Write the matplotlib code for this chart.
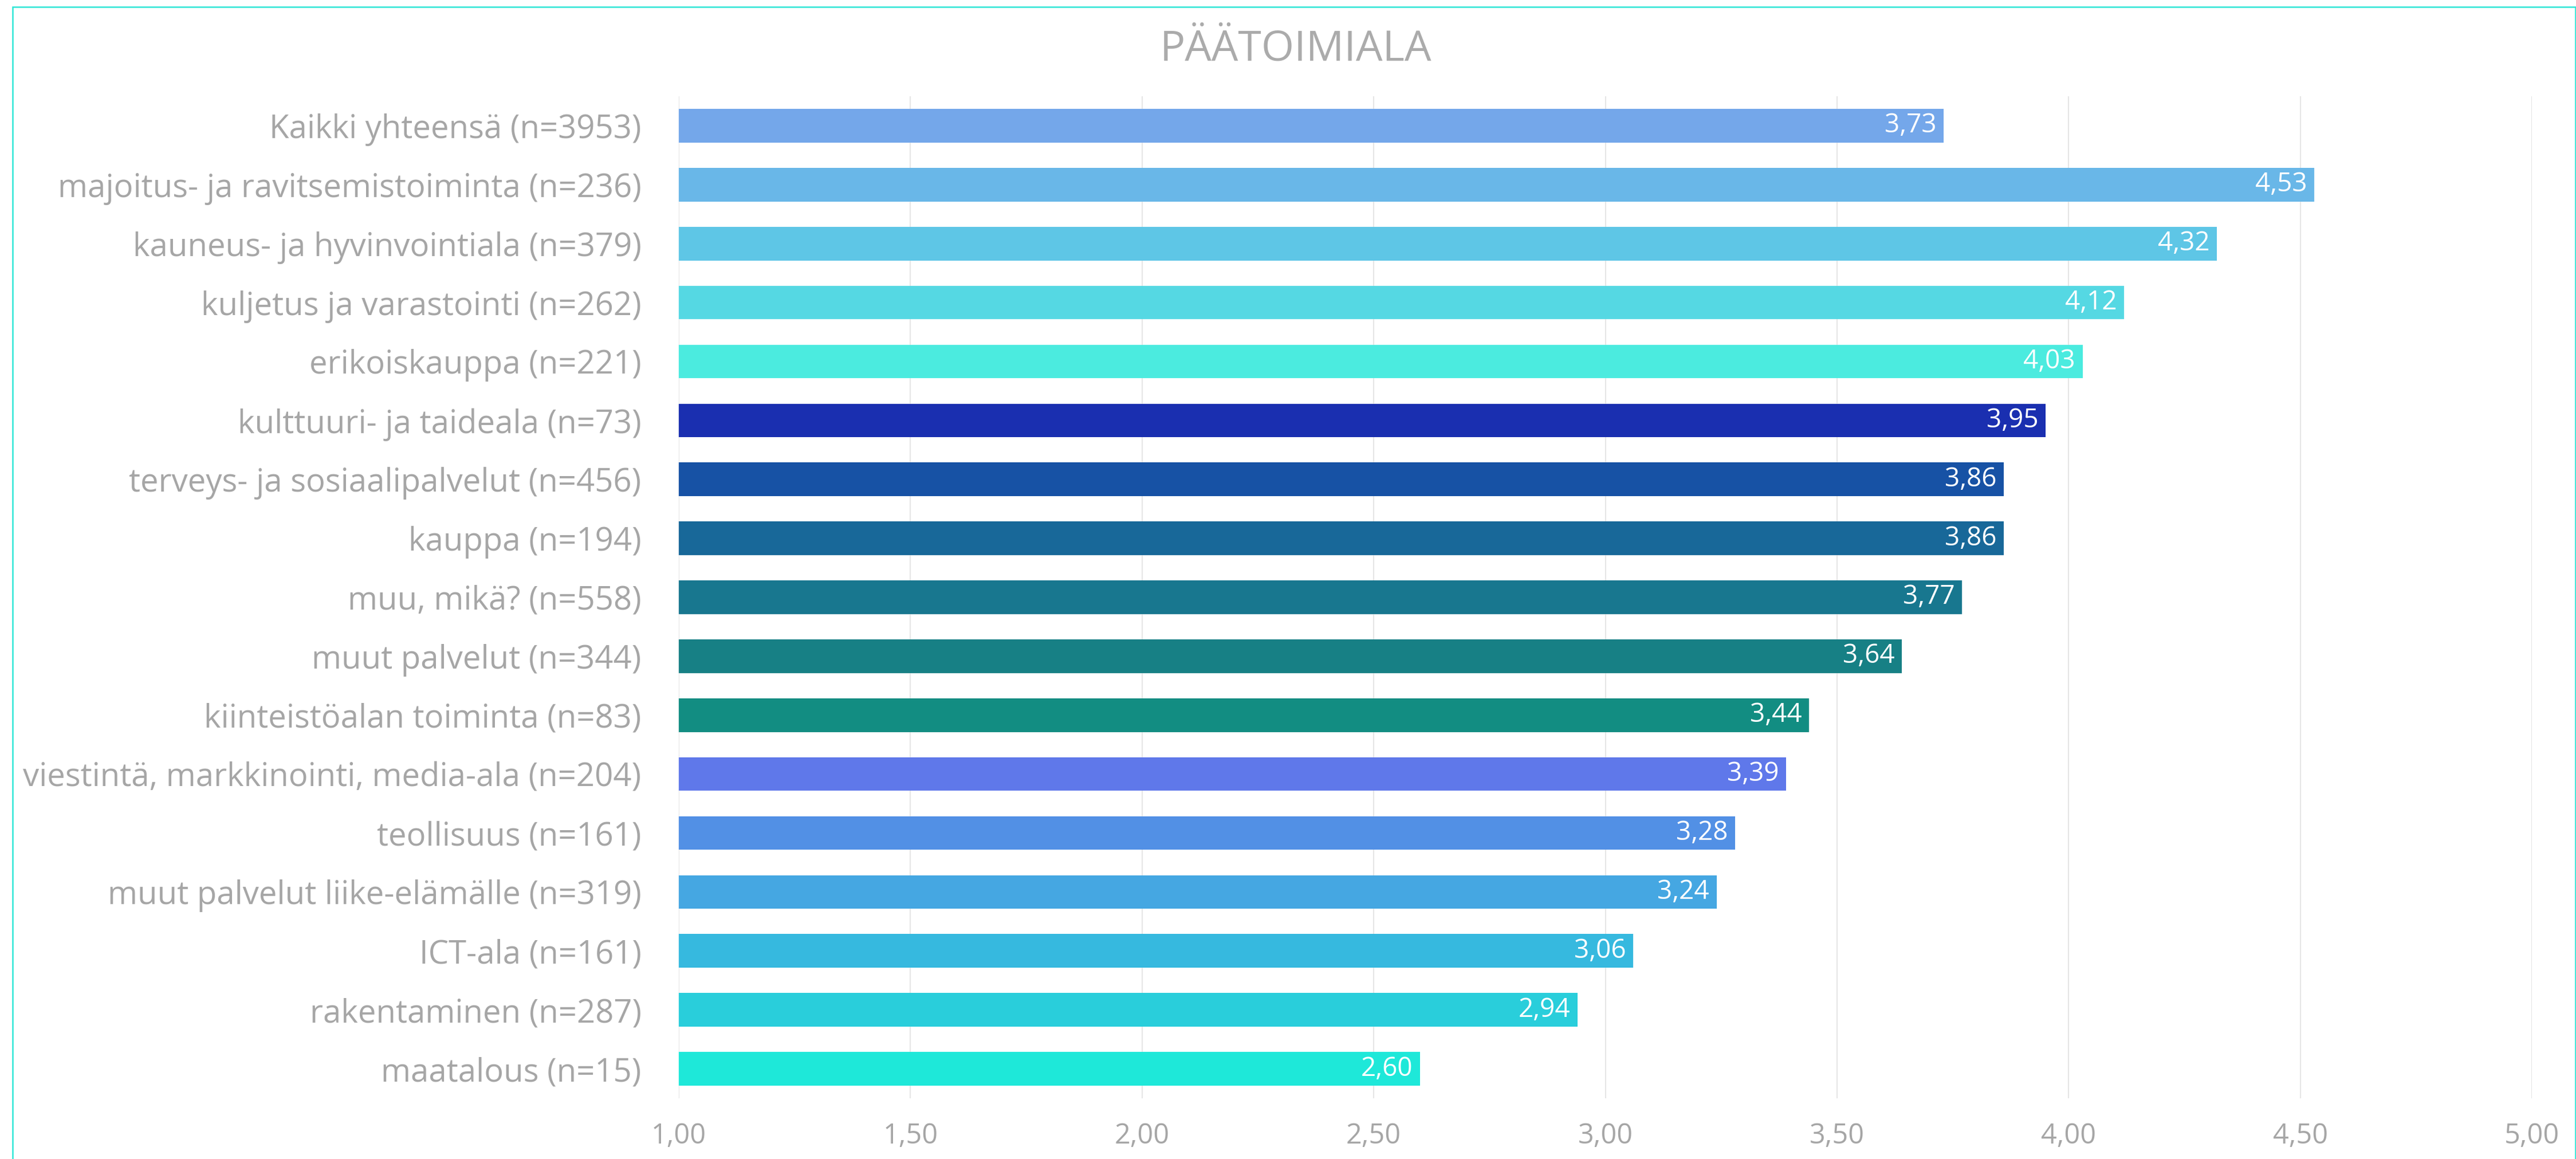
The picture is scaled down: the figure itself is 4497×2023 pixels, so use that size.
import matplotlib.pyplot as plt
from matplotlib.patches import Rectangle
from matplotlib.ticker import FixedLocator, FuncFormatter

plt.rcParams['font.family'] = ['Open Sans', 'DejaVu Sans']

# Tiedot
categories = [
    "Kaikki yhteensä (n=3953)",
    "majoitus- ja ravitsemistoiminta (n=236)",
    "kauneus- ja hyvinvointiala (n=379)",
    "kuljetus ja varastointi (n=262)",
    "erikoiskauppa (n=221)",
    "kulttuuri- ja taideala (n=73)",
    "terveys- ja sosiaalipalvelut (n=456)",
    "kauppa (n=194)",
    "muu, mikä? (n=558)",
    "muut palvelut (n=344)",
    "kiinteistöalan toiminta (n=83)",
    "viestintä, markkinointi, media-ala (n=204)",
    "teollisuus (n=161)",
    "muut palvelut liike-elämälle (n=319)",
    "ICT-ala (n=161)",
    "rakentaminen (n=287)",
    "maatalous (n=15)",
]
values = [3.73, 4.53, 4.32, 4.12, 4.03, 3.95, 3.86, 3.86, 3.77, 3.64,
          3.44, 3.39, 3.28, 3.24, 3.06, 2.94, 2.60]
colors = ["#74A7EA", "#69B7E8", "#5EC6E6", "#55D8E3", "#4BEBDF",
          "#1A2FB0", "#1752A5", "#186899", "#18778F", "#178085",
          "#128D82", "#5F78EA", "#5290E5", "#45A7E2", "#36B9DF",
          "#29CEDB", "#1EE8D9"]
x_ticks = [1.0, 1.5, 2.0, 2.5, 3.0, 3.5, 4.0, 4.5, 5.0]

W, H = 4497, 2023
fig = plt.figure(figsize=(W / 100, H / 100), dpi=100)
ax = fig.add_axes([1185 / W, 1 - 1917 / H, (4420 - 1185) / W, (1917 - 168) / H])

pos = list(range(len(categories)))
ax.barh(pos, values, height=0.57, color=colors, zorder=2)

for p, v in zip(pos, values):
    ax.annotate(f"{v:.2f}".replace(".", ","), xy=(v, p), xytext=(-9, 0),
                textcoords="offset points", ha="right", va="center",
                color="white", fontsize=33, zorder=3)

ax.set_xlim(1, 5)
ax.set_ylim(len(categories) - 0.5, -0.5)
ax.set_yticks(pos)
ax.set_yticklabels(categories)
ax.xaxis.set_major_locator(FixedLocator(x_ticks))
ax.xaxis.set_major_formatter(FuncFormatter(lambda x, _: f"{x:.2f}".replace(".", ",")))
ax.grid(axis="x", color="#E6E6E6", linewidth=1.5, zorder=0)
ax.set_axisbelow(True)
for s in ax.spines.values():
    s.set_visible(False)
ax.tick_params(axis="y", length=0, pad=47, labelsize=40.5, labelcolor="#A6A6A6")
ax.tick_params(axis="x", length=0, pad=30, labelsize=35, labelcolor="#A6A6A6")

fig.text(2262 / W, 1 - 86 / H, "PÄÄTOIMIALA", ha="center", va="center",
         fontsize=53, color="#ABABAB")

# kehys
fig.add_artist(Rectangle((22 / W, -0.05), (4496 - 22) / W, (1 - 12 / H) + 0.05,
                         transform=fig.transFigure, fill=False,
                         edgecolor="#2EE6D6", linewidth=1.8, clip_on=False))

fig.savefig("out.png", dpi=100)
